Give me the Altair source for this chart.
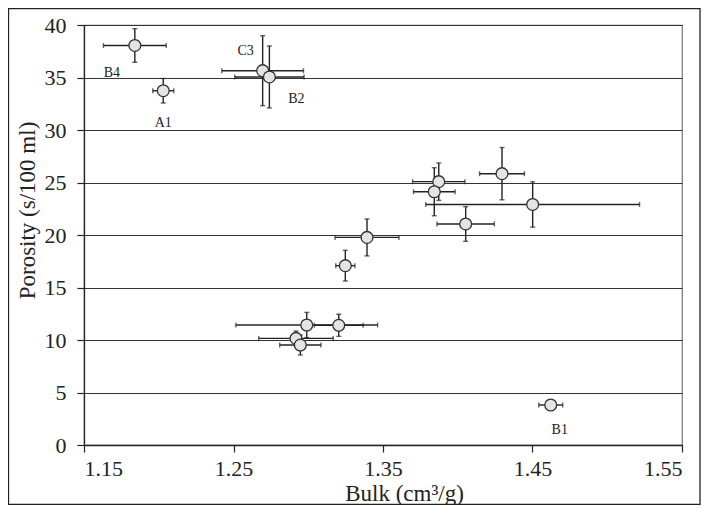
import altair as alt
import pandas as pd

# ---- data ----
names = ["B4", "A1", "C3", "B2", "", "", "", "", "", "", "", "", "", "", "", "B1"]
bulk = [1.184, 1.203, 1.2695, 1.274, 1.3873, 1.3843, 1.4296, 1.4501,
        1.4053, 1.3393, 1.3248, 1.2990, 1.3204, 1.2918, 1.2947, 1.4622]
bulk_err = [0.021, 0.007, 0.0273, 0.0232, 0.0175, 0.0139, 0.015, 0.0715,
            0.0192, 0.0214, 0.0064, 0.0474, 0.0163, 0.0249, 0.0138, 0.008]
porosity = [38.05, 33.74, 35.65, 35.05, 25.08, 24.12, 25.84, 22.91,
            21.05, 19.77, 17.08, 11.43, 11.40, 10.15, 9.52, 3.81]
porosity_err = [1.6, 1.17, 3.33, 2.95, 1.78, 2.29, 2.49, 2.16,
                1.65, 1.76, 1.46, 1.2, 1.05, 0.7, 0.95, 0.0]
x_ticks = [1.15, 1.25, 1.35, 1.45, 1.55]
y_ticks = [0, 5, 10, 15, 20, 25, 30, 35, 40]

df = pd.DataFrame({
    "name": names,
    "bulk": bulk,
    "por": porosity,
})
df["bulk_lo"] = [b - e for b, e in zip(bulk, bulk_err)]
df["bulk_hi"] = [b + e for b, e in zip(bulk, bulk_err)]
df["por_lo"] = [p - e for p, e in zip(porosity, porosity_err)]
df["por_hi"] = [p + e for p, e in zip(porosity, porosity_err)]

FONT = "Liberation Serif"
INK = "#222222"

xscale = alt.Scale(domain=[1.15, 1.55], nice=False, zero=False)
yscale = alt.Scale(domain=[0, 40], nice=False, zero=False)

xaxis = alt.Axis(values=x_ticks, format=".2f", title="Bulk (cm³/g)",
                 grid=False, tickSize=7, labelPadding=6,
                 titleX=320, titleY=55, titleBaseline="alphabetic", titleAlign="center")
yaxis = alt.Axis(values=y_ticks, format="d", title="Porosity (s/100 ml)",
                 grid=True, gridColor="#333333", gridWidth=1, tickSize=7, labelPadding=11,
                 titleX=-57, titleY=185, titleAlign="center", titleBaseline="middle")

base = alt.Chart(df)

xbars = base.mark_rule(color=INK, strokeWidth=1.4).encode(
    x=alt.X("bulk_lo:Q", scale=xscale, axis=xaxis),
    x2="bulk_hi:Q",
    y=alt.Y("por:Q", scale=yscale, axis=yaxis),
)
ybars = base.mark_rule(color=INK, strokeWidth=1.4).encode(
    x=alt.X("bulk:Q", scale=xscale),
    y=alt.Y("por_lo:Q", scale=yscale),
    y2="por_hi:Q",
)
ycap_lo = base.mark_tick(orient="horizontal", color=INK, size=5, thickness=1.4).encode(
    x=alt.X("bulk:Q", scale=xscale), y=alt.Y("por_lo:Q", scale=yscale))
ycap_hi = base.mark_tick(orient="horizontal", color=INK, size=5, thickness=1.4).encode(
    x=alt.X("bulk:Q", scale=xscale), y=alt.Y("por_hi:Q", scale=yscale))
xcap_lo = base.mark_tick(orient="vertical", color=INK, size=5, thickness=1.4).encode(
    x=alt.X("bulk_lo:Q", scale=xscale), y=alt.Y("por:Q", scale=yscale))
xcap_hi = base.mark_tick(orient="vertical", color=INK, size=5, thickness=1.4).encode(
    x=alt.X("bulk_hi:Q", scale=xscale), y=alt.Y("por:Q", scale=yscale))

points = base.mark_point(shape="circle", filled=True, fill="#e4e4e4", stroke="#333333",
                         strokeWidth=1.3, size=140, opacity=1).encode(
    x=alt.X("bulk:Q", scale=xscale), y=alt.Y("por:Q", scale=yscale))

label_offsets = {"B4": (-23, 28), "A1": (0, 32), "C3": (-17, -20), "B2": (27, 22), "B1": (9, 25)}
labels = []
for nm, (dx, dy) in label_offsets.items():
    labels.append(
        base.transform_filter(alt.datum.name == nm).mark_text(
            font=FONT, fontSize=14, color=INK, dx=dx, dy=dy, align="center", baseline="middle"
        ).encode(x=alt.X("bulk:Q", scale=xscale), y=alt.Y("por:Q", scale=yscale), text="name:N")
    )

frame = alt.Chart(pd.DataFrame({"a": [0]})).mark_rect(
    fillOpacity=0, stroke=INK, strokeWidth=1.3, clip=False
).encode(x=alt.value(-75.5), x2=alt.value(616), y=alt.value(-16.5), y2=alt.value(479.5))

chart = alt.layer(frame, xbars, ybars, ycap_lo, ycap_hi, xcap_lo, xcap_hi, points, *labels).properties(
    width=598, height=420,
    autosize=alt.AutoSizeParams(type="none"),
    padding={"left": 76, "top": 17, "right": 20, "bottom": 60},
    background="white",
).configure_axis(
    labelFont=FONT, labelFontSize=22, labelColor=INK,
    titleFont=FONT, titleFontSize=23, titleColor=INK, titleFontWeight="normal",
    domainColor=INK, domainWidth=1.3, tickColor=INK, tickWidth=1.2,
).configure_view(stroke="#777777", strokeWidth=1.2)

chart.save("out.html", embed_options={"renderer": "svg", "actions": False})
